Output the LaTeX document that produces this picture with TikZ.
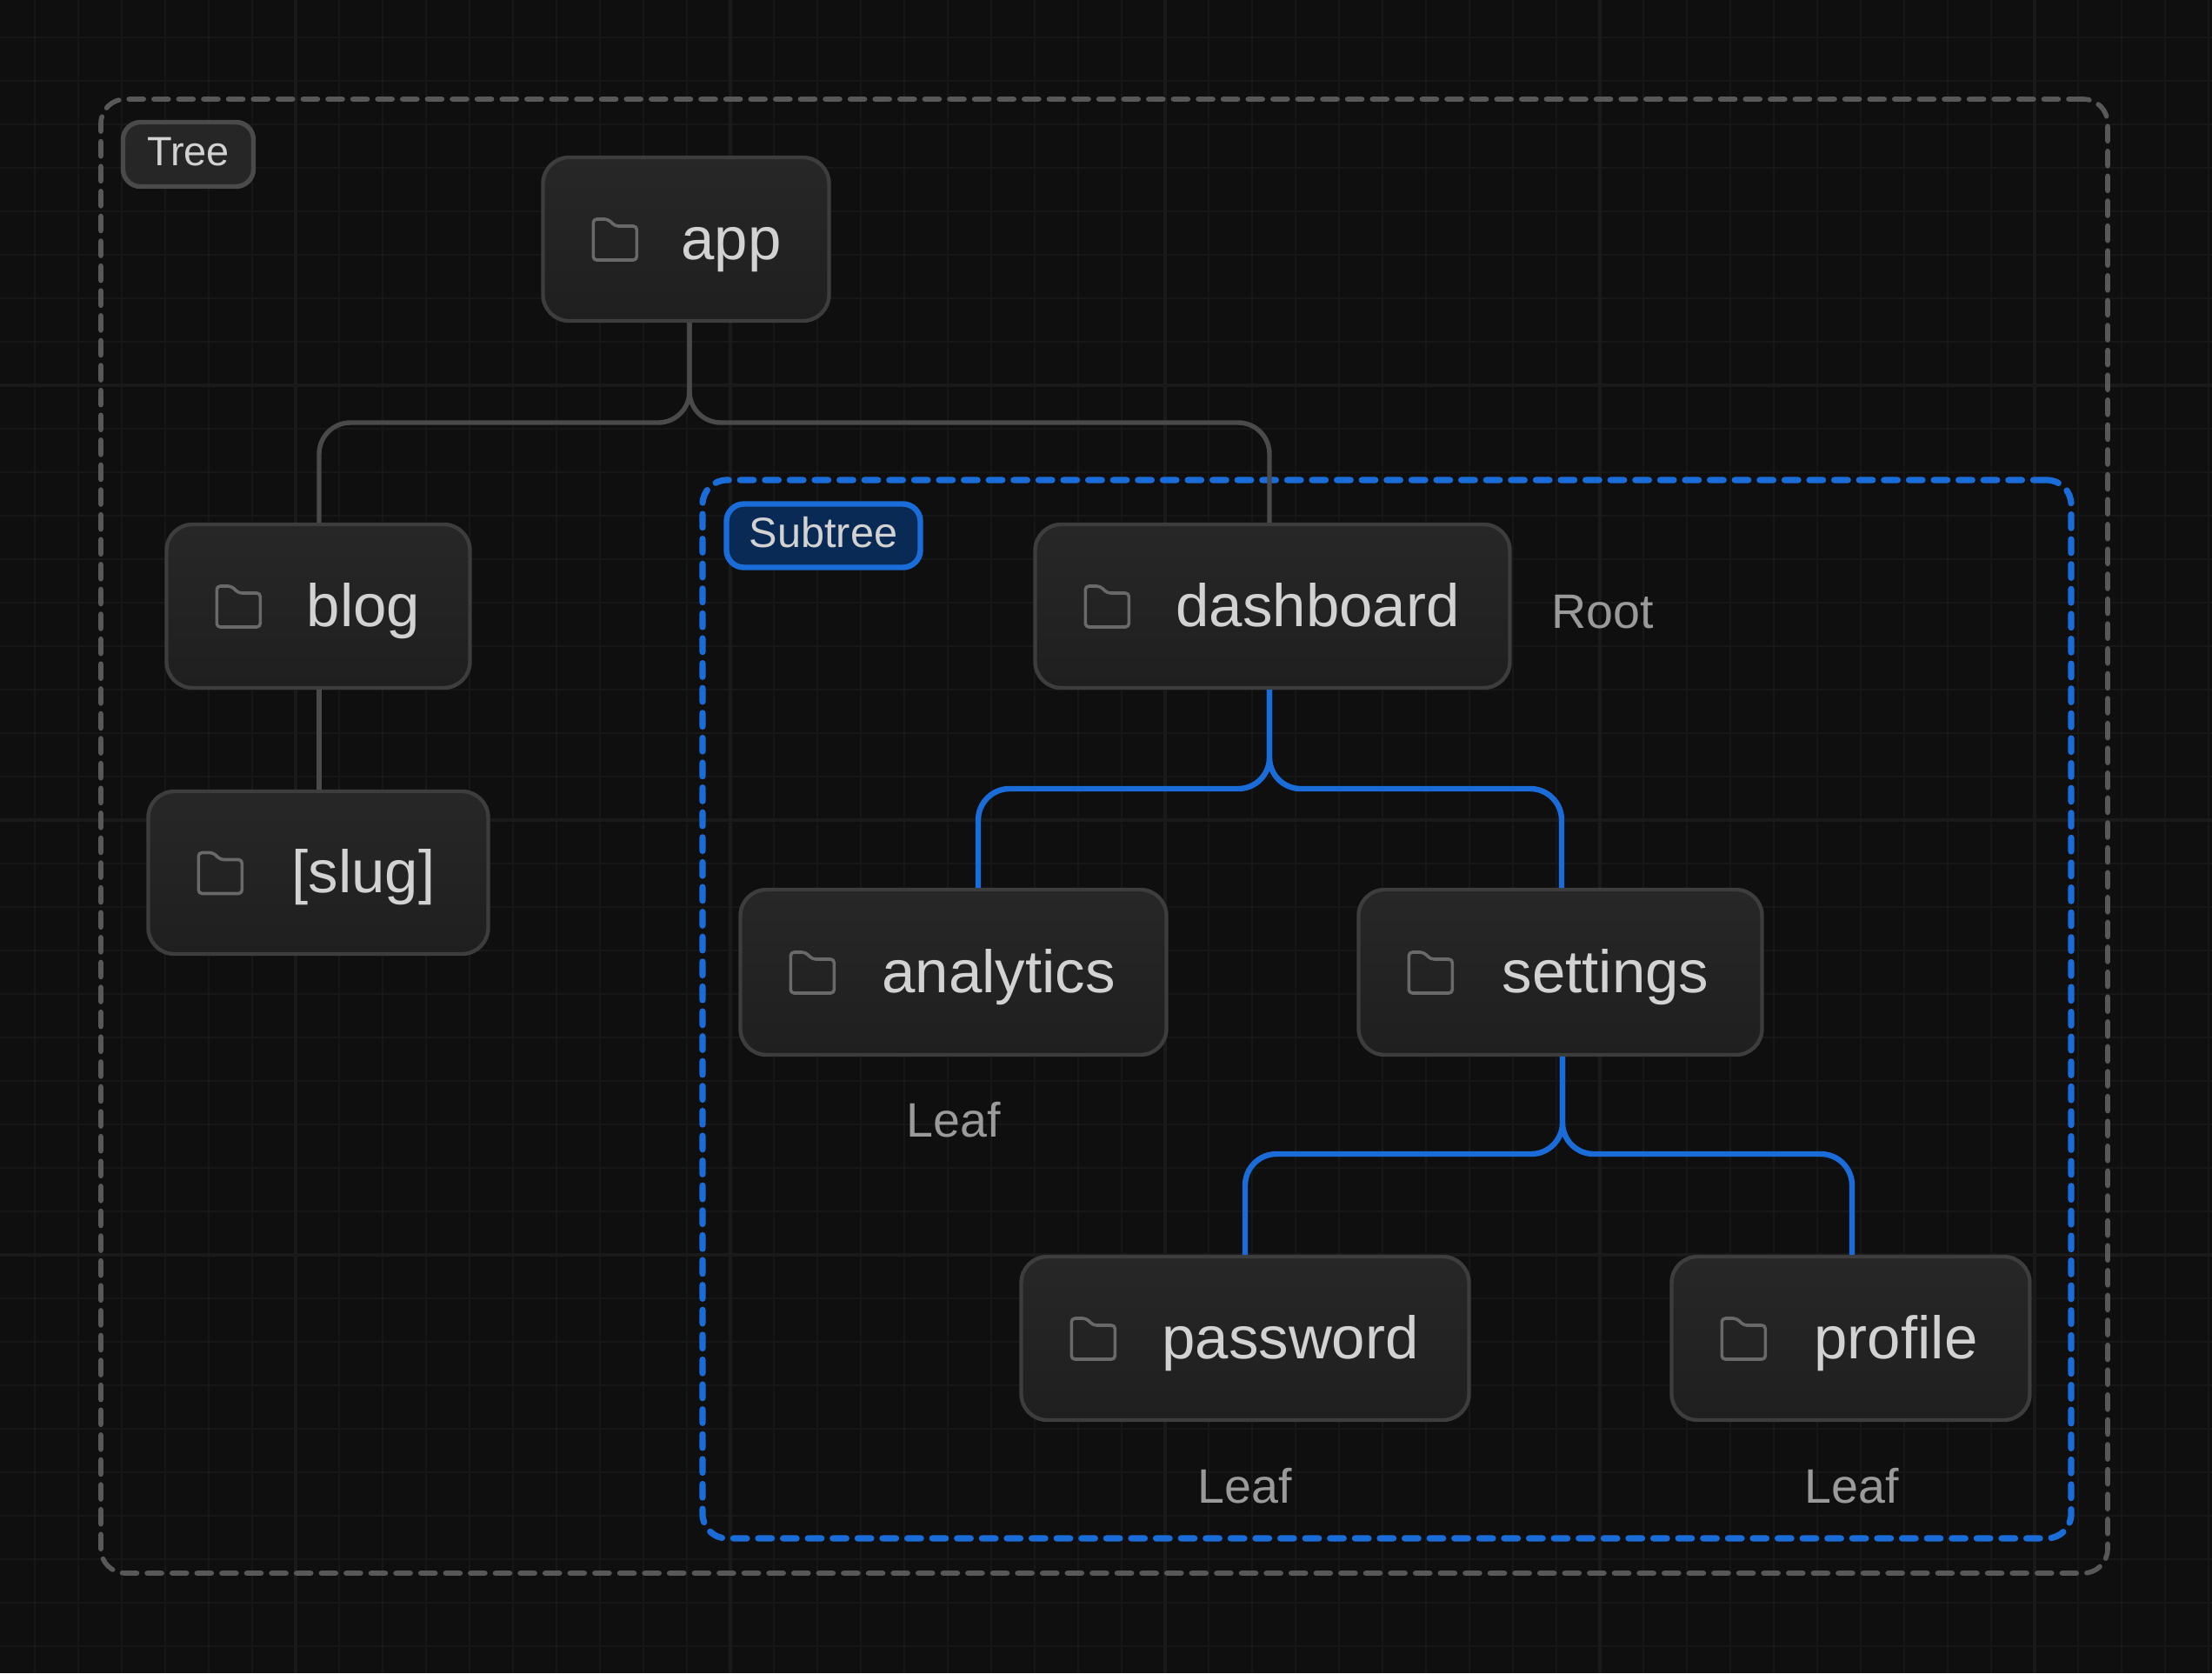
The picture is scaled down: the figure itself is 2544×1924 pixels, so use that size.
\documentclass[tikz,border=0pt]{standalone}
\usepackage{fontspec}
\setmainfont{Liberation Sans}
\usetikzlibrary{calc}
\definecolor{bgc}{HTML}{0F0F10}
\definecolor{gridminor}{HTML}{171717}
\definecolor{gridmajor}{HTML}{1A1A1A}
\definecolor{edgegray}{HTML}{4A4A4A}
\definecolor{boxedge}{HTML}{3D3D3D}
\definecolor{boxtop}{HTML}{272727}
\definecolor{boxbot}{HTML}{1F1F1F}
\definecolor{txt}{HTML}{D2D2D2}
\definecolor{dim}{HTML}{9A9A9A}
\definecolor{iconc}{HTML}{696969}
\definecolor{blueline}{HTML}{1A6CD8}
\definecolor{bluefill}{HTML}{0A2A56}
\definecolor{dashgray}{HTML}{585858}
\tikzset{
  x=0.5pt,y=-0.5pt,
  folderbox/.style={draw=boxedge,line width=2.2pt,rounded corners=15pt,top color=boxtop,bottom color=boxbot,
     inner sep=0pt,text=txt,font=\fontsize{34.5}{36}\selectfont,text height=29pt,text depth=6pt,align=center},
  conn/.style={draw=edgegray,line width=2.7pt,rounded corners=18pt},
  connblue/.style={draw=blueline,line width=3.2pt,rounded corners=18pt},
  foldericon/.style={draw=iconc,line width=1.8pt,rounded corners=2pt,line join=round},
  treeframe/.style={draw=dashgray,line width=2.8pt,dash pattern=on 8.5pt off 5.8pt,line cap=round,rounded corners=14pt},
  subframe/.style={draw=blueline,line width=3.6pt,dash pattern=on 7.8pt off 6.5pt,line cap=round,rounded corners=14pt},
  treetag/.style={draw=edgegray,line width=2.7pt,fill=black!85!white,rounded corners=10pt,inner sep=0pt,text=txt,font=\fontsize{23.5}{25}\selectfont,text height=17pt,text depth=4pt},
  subtag/.style={draw=blueline,line width=3.2pt,fill=bluefill,rounded corners=10pt,inner sep=0pt,text=txt,font=\fontsize{24.3}{25}\selectfont,text height=17pt,text depth=4pt},
  hint/.style={text=dim,inner sep=0pt,font=\fontsize{27.8}{30}\selectfont,anchor=base}
}
% name, left, right, top, bottom, text
\newcommand{\foldernode}[6]{%
  \node[folderbox,minimum width={(#3-#2-3)*0.5pt},minimum height={(#5-#4-2)*0.5pt}] (#1) at ({(#2+#3)/2},{(#4+#5)/2}) {\hspace{52pt}#6};
  \draw[foldericon] ($(#1.west)+(60,-23)$) -- ++(0,47) -- ++(50,0) -- ++(0,-39) -- ++(-25,0) -- ++(-8,-8) -- cycle;
}
\begin{document}
\begin{tikzpicture}
\useasboundingbox (0,0) rectangle (2544,1924);
\fill[bgc] (0,0) rectangle (2544,1924);
% grid
\foreach \gx in {40,90,...,2540} \draw[gridminor,line width=1.4pt] (\gx,0) -- (\gx,1924);
\foreach \gy in {43,93,...,1893} \draw[gridminor,line width=1.4pt] (0,\gy) -- (2544,\gy);
\foreach \gx in {340,840,...,2340} \draw[gridmajor,line width=1.8pt] (\gx,0) -- (\gx,1924);
\foreach \gy in {443,943,1443} \draw[gridmajor,line width=1.8pt] (0,\gy) -- (2544,\gy);
% frames
\node[treeframe,minimum width=1154pt,minimum height=847.5pt,inner sep=0pt] (treebox) at ({(116+2424)/2},{(114+1809)/2}) {};
\node[subframe,minimum width=787pt,minimum height=608.5pt,inner sep=0pt] (subbox) at ({(808+2382)/2},{(552+1769)/2}) {};
% tags
\node[treetag,minimum width=75pt,minimum height=37pt] (treelabel) at ({(141+292)/2},{(140+215)/2}) {Tree};
\node[subtag,minimum width=111.5pt,minimum height=36.5pt] (sublabel) at ({(833+1061)/2},{(578+654)/2}) {Subtree};
% connectors
\coordinate (j1) at (793,486);
\coordinate (j2) at (1460,907);
\coordinate (j3) at (1797,1327);
% nodes
\foldernode{app}{623}{955}{180}{370}{app}
\foldernode{blog}{190}{542}{602}{792}{blog}
\foldernode{slug}{169}{563}{909}{1098}{[slug]}
\foldernode{dashboard}{1189}{1738}{602}{792}{dashboard}
\foldernode{analytics}{850}{1343}{1022}{1214}{analytics}
\foldernode{settings}{1561}{2028}{1022}{1214}{settings}
\foldernode{password}{1173}{1691}{1444}{1634}{password}
\foldernode{profile}{1921}{2336}{1444}{1634}{profile}
\draw[conn] (j1 |- app.south) -- (j1) -- (367,486) -- (367,0 |- blog.north);
\draw[conn] (j1 |- app.south) -- (j1) -- (1460,486) -- (1460,0 |- dashboard.north);
\draw[conn] (367,0 |- blog.south) -- (367,0 |- slug.north);
\draw[connblue] (j2 |- dashboard.south) -- (j2) -- (1125,907) -- (1125,0 |- analytics.north);
\draw[connblue] (j2 |- dashboard.south) -- (j2) -- (1796,907) -- (1796,0 |- settings.north);
\draw[connblue] (j3 |- settings.south) -- (j3) -- (1432,1327) -- (1432,0 |- password.north);
\draw[connblue] (j3 |- settings.south) -- (j3) -- (2130,1327) -- (2130,0 |- profile.north);
% hints
\node[hint,anchor=base west] (rootlabel) at (1784,722) {Root};
\node[hint] (leafa) at (1097,1307) {Leaf};
\node[hint] (leafb) at (1432,1728) {Leaf};
\node[hint] (leafc) at (2130,1728) {Leaf};
\end{tikzpicture}
\end{document}
